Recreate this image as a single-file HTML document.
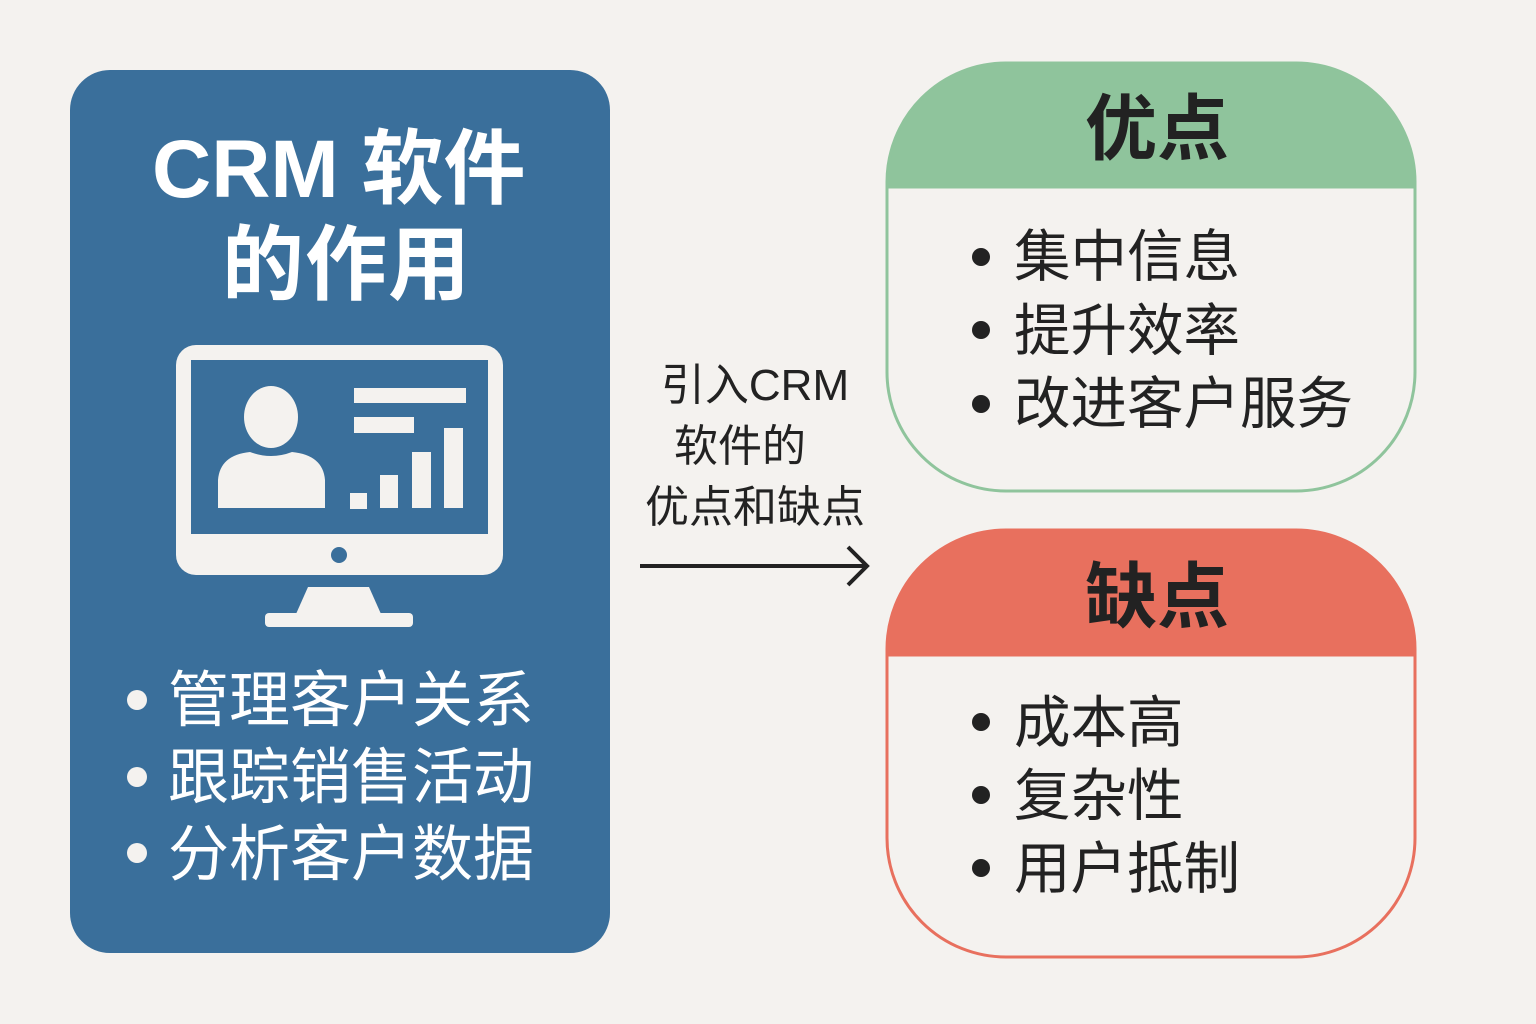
<!DOCTYPE html>
<html><head><meta charset="utf-8"><style>
body{margin:0;width:1536px;height:1024px;background:#f4f2ef;position:relative;overflow:hidden;font-family:"Liberation Sans","Noto Sans CJK SC",sans-serif}
.a{position:absolute;white-space:nowrap}
</style></head><body>
<div class="a" style="left:70px;top:70px;width:540px;height:883px;background:#3a6f9b;border-radius:40px"></div>
<div class="a" style="left:152px;top:122px;color:#fff;font-size:82px;font-weight:bold;line-height:96px">CRM 软件</div>
<div class="a" style="left:222px;top:218px;color:#fff;font-size:82px;font-weight:bold;line-height:96px;letter-spacing:1px">的作用</div>
<svg class="a" style="left:0;top:0" width="1536" height="1024">
<rect x="176" y="345" width="327" height="230" rx="20" fill="#f4f2ef"/>
<rect x="191" y="360" width="297" height="174" fill="#3a6f9b"/>
<ellipse cx="271" cy="417" rx="27" ry="31" fill="#f4f2ef"/>
<path d="M218 508 L218 480 Q220 455 250 452 Q271 460 292 452 Q323 455 325 480 L325 508 Z" fill="#f4f2ef"/>
<rect x="354" y="388" width="112" height="15" fill="#f4f2ef"/>
<rect x="354" y="417" width="60" height="16" fill="#f4f2ef"/>
<rect x="350" y="493" width="17" height="16" fill="#f4f2ef"/>
<rect x="380" y="475" width="18" height="33" fill="#f4f2ef"/>
<rect x="412" y="452" width="19" height="56" fill="#f4f2ef"/>
<rect x="444" y="428" width="19" height="80" fill="#f4f2ef"/>
<circle cx="339" cy="555" r="8" fill="#3a6f9b"/>
<path d="M308 587 L369 587 L381 614 L296 614 Z" fill="#f4f2ef"/>
<rect x="265" y="613" width="148" height="14" rx="4" fill="#f4f2ef"/>
<circle cx="137" cy="700" r="10" fill="#f4f2ef"/>
<circle cx="137" cy="777" r="10" fill="#f4f2ef"/>
<circle cx="137" cy="853" r="10" fill="#f4f2ef"/>
<line x1="640" y1="566" x2="866" y2="566" stroke="#222" stroke-width="4"/>
<path d="M848 547 L867 566 L848 585" fill="none" stroke="#222" stroke-width="4"/>
<defs><clipPath id="c1"><rect x="886" y="62" width="530" height="430" rx="120"/></clipPath>
<clipPath id="c2"><rect x="886" y="529" width="530" height="429" rx="120"/></clipPath></defs>
<g clip-path="url(#c1)"><rect x="886" y="62" width="530" height="430" fill="#f4f2ef"/><rect x="886" y="62" width="530" height="125" fill="#8fc49c"/></g>
<rect x="887" y="63" width="528" height="428" rx="119" fill="none" stroke="#8fc49c" stroke-width="3"/>
<line x1="886" y1="187" x2="1416" y2="187" stroke="#8fc49c" stroke-width="3"/>
<g clip-path="url(#c2)"><rect x="886" y="529" width="530" height="429" fill="#f4f2ef"/><rect x="886" y="529" width="530" height="126" fill="#e8705e"/></g>
<rect x="887" y="530" width="528" height="427" rx="119" fill="none" stroke="#e8705e" stroke-width="3"/>
<line x1="886" y1="655" x2="1416" y2="655" stroke="#e8705e" stroke-width="3"/>
<g fill="#222"><circle cx="981" cy="257" r="9"/><circle cx="981" cy="330" r="9"/><circle cx="981" cy="404" r="9"/>
<circle cx="981" cy="722" r="9"/><circle cx="981" cy="795" r="9"/><circle cx="981" cy="868" r="9"/></g>
</svg>
<div class="a" style="left:168px;top:662px;color:#fff;font-size:61px;line-height:77px">管理客户关系<br>跟踪销售活动<br>分析客户数据</div>
<div class="a" style="left:630px;width:250px;top:355px;text-align:center;color:#222;font-size:44px;line-height:61px">引入CRM<br><span style="margin-right:30px">软件的</span><br>优点和缺点</div>
<div class="a" style="left:892px;width:530px;top:88px;text-align:center;color:#222;font-size:72px;font-weight:bold;line-height:84px">优点</div>
<div class="a" style="left:892px;width:530px;top:556px;text-align:center;color:#222;font-size:72px;font-weight:bold;line-height:84px">缺点</div>
<div class="a" style="left:1014px;top:220px;color:#222;font-size:56.5px;line-height:73.5px">集中信息<br>提升效率<br>改进客户服务</div>
<div class="a" style="left:1014px;top:686px;color:#222;font-size:56.5px;line-height:73px">成本高<br>复杂性<br>用户抵制</div>
</body></html>
